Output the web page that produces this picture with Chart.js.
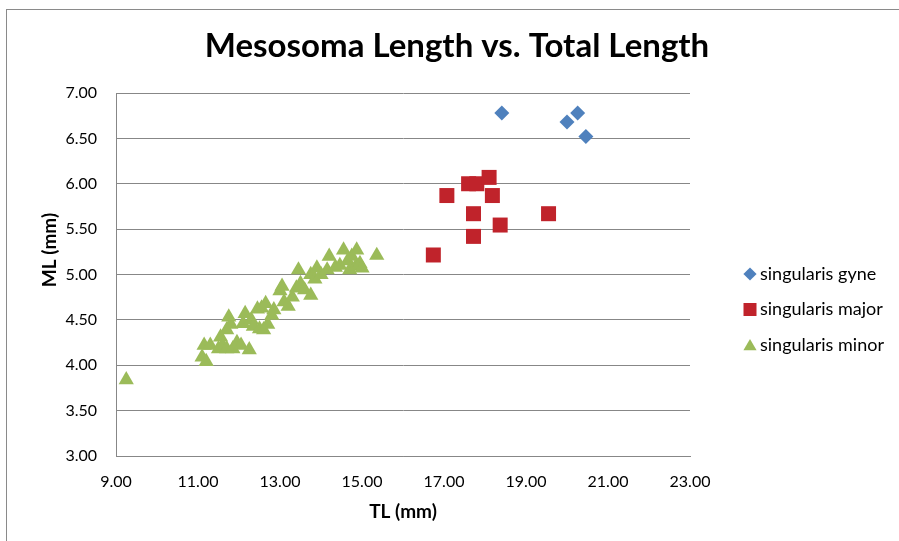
<!DOCTYPE html>
<html><head><meta charset="utf-8">
<script src="https://cdn.jsdelivr.net/npm/chart.js@4.4.0/dist/chart.umd.min.js"></script>
<style>html,body{margin:0;padding:0;background:#fff;overflow:hidden}</style>
</head><body>
<canvas id="c" width="899" height="541" style="width:899px;height:541px;display:block"></canvas>
<script>
const chartTitle = 'Mesosoma Length vs. Total Length';
const xTitle = 'TL (mm)';
const yTitle = 'ML (mm)';
const seriesNames = ['singularis gyne', 'singularis major', 'singularis minor'];

const gyneTL = [18.41, 20.26, 20.00, 20.46];
const gyneML = [6.78, 6.78, 6.68, 6.52];

const majorTL = [17.07, 17.60, 17.80, 18.10, 18.18, 17.72, 19.55, 18.37, 17.72, 16.74];
const majorML = [5.87, 6.00, 6.00, 6.07, 5.87, 5.67, 5.67, 5.545, 5.42, 5.215];

const minorTL = [9.25, 11.10, 11.20, 11.15, 11.30, 11.50, 11.55, 11.60, 11.70, 11.75, 11.70, 11.80, 11.85, 11.95,
  12.05, 12.10, 12.15, 12.25, 12.30, 12.35, 12.45, 12.50, 12.55, 12.60, 12.65, 12.70, 12.80, 12.85,
  13.00, 13.05, 13.10, 13.20, 13.30, 13.40, 13.45, 13.50, 13.60, 13.75, 13.75, 13.85, 13.90,
  14.00, 14.15, 14.20, 14.35, 14.46, 14.55, 14.65, 14.70, 14.75, 14.85, 14.87, 14.95, 15.00, 15.36];
const minorML = [3.84, 4.09, 4.04, 4.22, 4.22, 4.18, 4.31, 4.22, 4.18, 4.53, 4.39, 4.45, 4.18, 4.25,
  4.22, 4.46, 4.57, 4.17, 4.50, 4.43, 4.62, 4.40, 4.63, 4.39, 4.68, 4.45, 4.55, 4.61,
  4.82, 4.87, 4.70, 4.65, 4.75, 4.85, 5.05, 4.90, 4.83, 4.77, 5.00, 4.95, 5.07,
  5.00, 5.05, 5.20, 5.08, 5.10, 5.27, 5.15, 5.05, 5.20, 5.09, 5.27, 5.12, 5.07, 5.21];

const xTicks = [9, 11, 13, 15, 17, 19, 21, 23];
const yTicks = [3.0, 3.5, 4.0, 4.5, 5.0, 5.5, 6.0, 6.5, 7.0];

const colors = ['#4F81BD', '#C0232B', '#9BBB59'];

function pts(xs, ys) { return xs.map((x, i) => ({x: x, y: ys[i]})); }

Chart.defaults.font.family = 'Lato';
Chart.defaults.color = '#000';

const gridGray = '#878787';

const borderPlugin = {
  id: 'outerBorder',
  beforeDraw(chart) {
    const ctx = chart.ctx;
    ctx.save();
    ctx.fillStyle = '#fff';
    ctx.fillRect(0, 0, chart.width, chart.height);
    ctx.strokeStyle = '#8a8a8a';
    ctx.lineWidth = 1;
    ctx.strokeRect(6.5, 9.5, 1200, 1200);
    ctx.restore();
  }
};

const yTitlePlugin = {
  id: 'yTitleText',
  afterDraw(chart) {
    const ctx = chart.ctx;
    ctx.save();
    ctx.translate(50, 250);
    ctx.rotate(-Math.PI / 2);
    ctx.font = 'bold 19px Lato';
    ctx.fillStyle = '#000';
    ctx.textAlign = 'center';
    ctx.textBaseline = 'middle';
    ctx.fillText(yTitle, 0, 0);
    ctx.restore();
  }
};

const legendPlugin = {
  id: 'sideLegend',
  afterDraw(chart) {
    const ctx = chart.ctx;
    const sizes = {rectRot: 6.6, rect: 9.2, triangle: 7.6};
    ctx.save();
    chart.data.datasets.forEach((ds, i) => {
      const y = 274 + i * 35.5;
      ctx.fillStyle = ds.backgroundColor;
      ctx.strokeStyle = ds.backgroundColor;
      Chart.helpers.drawPoint(ctx, {pointStyle: ds.pointStyle, radius: sizes[ds.pointStyle], rotation: 0, borderWidth: 0}, 750, ds.pointStyle === 'triangle' ? y + 1.5 : y);
      ctx.fillStyle = '#000';
      ctx.font = '18px Lato';
      ctx.textBaseline = 'middle';
      ctx.textAlign = 'left';
      ctx.fillText(ds.label, 760, y);
    });
    ctx.restore();
  }
};

new Chart(document.getElementById('c'), {
  type: 'scatter',
  data: {
    datasets: [
      {label: seriesNames[0], data: pts(gyneTL, gyneML), pointStyle: 'rectRot', pointRadius: 7.5, backgroundColor: colors[0], borderColor: colors[0], borderWidth: 0},
      {label: seriesNames[1], data: pts(majorTL, majorML), pointStyle: 'rect', pointRadius: 10.6, backgroundColor: colors[1], borderColor: colors[1], borderWidth: 0},
      {label: seriesNames[2], data: pts(minorTL, minorML), pointStyle: 'triangle', pointRadius: 8.8, backgroundColor: colors[2], borderColor: colors[2], borderWidth: 0}
    ]
  },
  options: {
    responsive: false,
    animation: false,
    devicePixelRatio: 1,
    layout: {padding: {left: 15, right: 0, top: 0, bottom: 0}},
    plugins: {
      legend: {display: false},
      tooltip: {enabled: false},
      title: {
        display: true,
        text: chartTitle,
        color: '#000',
        font: {family: 'Lato', size: 33, weight: 'bold'},
        padding: {top: 27, bottom: 26.4}
      }
    },
    scales: {
      x: {
        type: 'linear', position: 'bottom', min: 9, max: 23,
        afterBuildTicks: s => { s.ticks = xTicks.map(v => ({value: v})); },
        afterFit: s => { s.height = 85; },
        ticks: {callback: v => Number(v).toFixed(2), font: {size: 16}, color: '#000', padding: 16, maxRotation: 0},
        grid: {display: false, drawTicks: false},
        border: {display: true, color: gridGray, width: 1},
        title: {display: true, text: xTitle, color: '#000', font: {size: 19, weight: 'bold'}, padding: {top: 0, bottom: 17.5}}
      },
      y: {
        type: 'linear', position: 'left', min: 3, max: 7,
        afterBuildTicks: s => { s.ticks = yTicks.map(v => ({value: v})); },
        afterFit: s => { s.width = 101; },
        ticks: {callback: v => Number(v).toFixed(2), font: {size: 16}, color: '#000', padding: 19},
        grid: {color: gridGray, lineWidth: 1, drawTicks: false},
        border: {display: true, color: gridGray, width: 1},
        title: {display: false}
      },
      spacer: {
        type: 'linear', position: 'right', display: true,
        afterFit: s => { s.width = 209; },
        ticks: {display: false},
        grid: {display: false, drawTicks: false},
        border: {display: false},
        title: {display: false}
      }
    }
  },
  plugins: [borderPlugin, yTitlePlugin, legendPlugin]
});
</script>
</body></html>
